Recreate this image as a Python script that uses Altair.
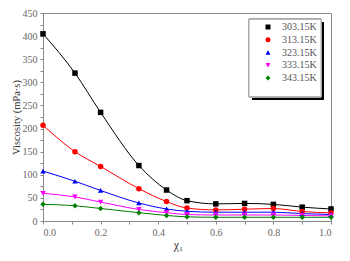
import altair as alt
import pandas as pd

x_vals = [0.0, 0.111, 0.2, 0.333, 0.429, 0.5, 0.6, 0.7, 0.8, 0.9, 1.0]
temps = ["303.15K", "313.15K", "323.15K", "333.15K", "343.15K"]
v303 = [405, 320, 235, 120, 67, 44, 37, 38, 36, 30, 26]
v313 = [207, 150, 118, 70, 42, 28, 24, 25.5, 27, 20.5, 17.5]
v323 = [108, 86, 66, 39, 26, 21, 19, 19, 19, 16, 14]
v333 = [60, 52, 41, 25, 18, 14, 13, 13, 13, 12, 11]
v343 = [36, 33, 27, 18, 12, 9, 8, 8, 8, 8, 8]
colors = ["#000000", "#ff0000", "#0000ff", "#ff00ff", "#008000"]
shapes = ["square", "circle", "triangle-up", "triangle-down", "diamond"]

rows = []
for t, vals in zip(temps, [v303, v313, v323, v333, v343]):
    for xv, yv in zip(x_vals, vals):
        rows.append({"x": xv, "v": yv, "T": t})
df = pd.DataFrame(rows)

font = "Liberation Serif"
xs = alt.X("x:Q", scale=alt.Scale(domain=[0, 1], nice=False),
           axis=alt.Axis(values=[i / 10 for i in range(11)],
                         labelExpr="(round(datum.value*10) % 2 == 0) ? format(datum.value, '.1f') : ''",
                         title="χ₁", titlePadding=2, titleFontSize=12, titleX=135, grid=False))
ys = alt.Y("v:Q", scale=alt.Scale(domain=[0, 450], nice=False),
           axis=alt.Axis(values=list(range(0, 451, 25)),
                         labelExpr="(datum.value % 50 == 0) ? datum.value : ''",
                         title="Viscosity (mPa·s)", titlePadding=1, titleFontSize=10.5, grid=False))

leg = alt.Legend(title=None, orient="none", legendX=206, legendY=5,
                 padding=4, labelFont=font, labelFontSize=10,
                 labelColor="#555555", symbolSize=25, rowPadding=2.75,
                 symbolOffset=10, labelOffset=9, symbolStrokeWidth=0)
color = alt.Color("T:N", scale=alt.Scale(domain=temps, range=colors), legend=leg)
shape = alt.Shape("T:N", scale=alt.Scale(domain=temps, range=shapes), legend=leg)

shadow = alt.Chart(df).mark_rect(color="#000000").encode(
    x=alt.value(209), x2=alt.value(281), y=alt.value(9), y2=alt.value(86.5))
box = alt.Chart(df).mark_rect(fill="#ffffff", stroke="#aaaaaa", strokeWidth=1).encode(
    x=alt.value(206), x2=alt.value(278), y=alt.value(6.3), y2=alt.value(83.7))

lines = alt.Chart(df).mark_line(interpolate="monotone", strokeWidth=1).encode(
    x=xs, y=ys,
    stroke=alt.Stroke("T:N", scale=alt.Scale(domain=temps, range=colors), legend=None),
    detail="T:N")
pts = alt.Chart(df).mark_point(filled=True, size=30, opacity=1).encode(
    x=xs, y=ys, color=color, shape=shape)

chart = alt.layer(lines, shadow, box, pts).resolve_scale(
    color="independent", stroke="independent", shape="independent"
).properties(
    width=288, height=208,
    autosize=alt.AutoSizeParams(type="none"),
    padding={"left": 35, "top": 5, "right": 11, "bottom": 32},
).configure_view(stroke="#888888").configure_axis(
    labelFont=font, labelFontSize=10, labelColor="#666666",
    titleFont=font, titleFontSize=11, titleColor="#333333", titleFontWeight="normal",
    domainColor="#888888", tickColor="#888888", tickSize=3,
    labelPadding=3,
)

chart.save("out.html", embed_options={"renderer": "svg", "actions": False})
